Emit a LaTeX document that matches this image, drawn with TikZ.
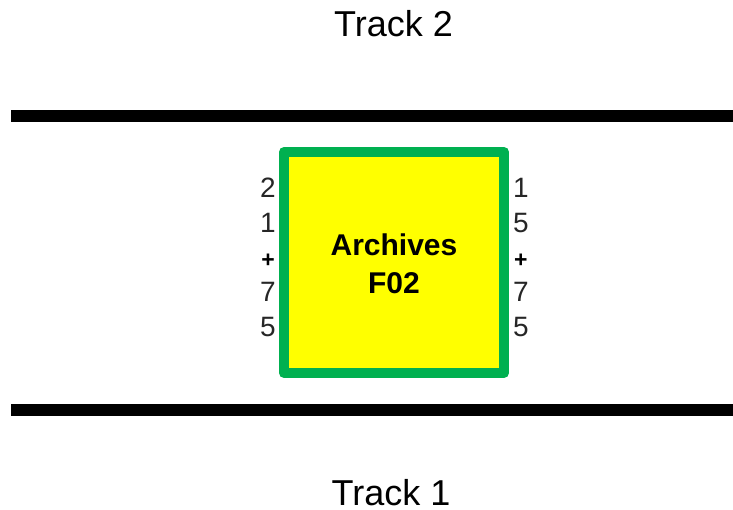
\documentclass[tikz,border=0pt]{standalone}
\usepackage{fontspec}
\setmainfont{Liberation Sans}
\definecolor{boxgreen}{HTML}{00B050}
\definecolor{boxyellow}{HTML}{FFFF00}
\definecolor{numgray}{HTML}{262626}
\begin{document}
\begin{tikzpicture}[x=1pt,y=-1pt,
  track/.style={line width=12pt,black},
  station/.style={draw=boxgreen,fill=boxyellow,line width=10pt,line join=round},
  tracklabel/.style={font=\fontsize{36}{36}\selectfont,anchor=base,inner sep=0pt},
  numL/.style={font=\fontsize{28}{28}\selectfont,anchor=base east,inner sep=0pt,text=numgray},
  numR/.style={font=\fontsize{28}{28}\selectfont,anchor=base west,inner sep=0pt,text=numgray},
  plusL/.style={font=\fontsize{23}{23}\selectfont\bfseries,anchor=base east,inner sep=0pt},
  plusR/.style={font=\fontsize{23}{23}\selectfont\bfseries,anchor=base west,inner sep=0pt},
  title/.style={font=\fontsize{30}{38}\selectfont\bfseries,align=center,inner sep=0pt}]
\useasboundingbox (0,0) rectangle (733,510);
\coordinate (t2a) at (11,116);
\coordinate (t2b) at (733,116);
\coordinate (t1a) at (11,409.5);
\coordinate (t1b) at (733,409.5);
\draw[track] (t2a) -- (t2b);
\draw[track] (t1a) -- (t1b);
\node[tracklabel] (lab2) at (393.5,37) {Track 2};
\node[tracklabel] (lab1) at (391,505.5) {Track 1};
\path[station] (284,152) rectangle (504,373);
\node[title] (name) at (394,264) {Archives\\F02};
\node[numL] (l1) at (276,198) {2};
\node[numL] (l2) at (276,232.5) {1};
\node[plusL] (l3) at (275,268) {+};
\node[numL] (l4) at (276,302) {7};
\node[numL] (l5) at (276,337) {5};
\node[numR] (r1) at (513,198) {1};
\node[numR] (r2) at (513,232.5) {5};
\node[plusR] (r3) at (514,268) {+};
\node[numR] (r4) at (513,302) {7};
\node[numR] (r5) at (513,337) {5};
\end{tikzpicture}
\end{document}
